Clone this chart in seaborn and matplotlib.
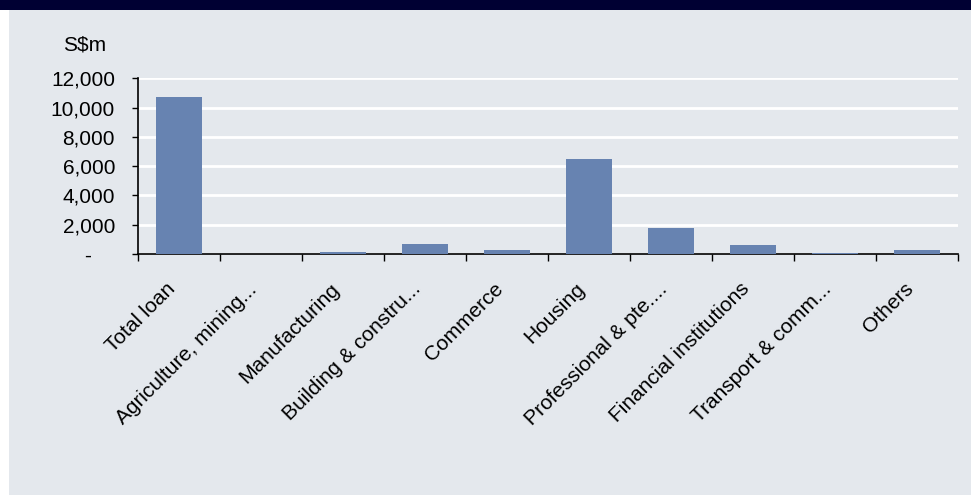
import matplotlib
matplotlib.use("Agg")
import matplotlib.pyplot as plt
from matplotlib.patches import Rectangle
from matplotlib.ticker import FixedLocator, FuncFormatter
import seaborn as sns
import pandas as pd

# Loan change by sector, S$m
sectors = [
    "Total loan",
    "Agriculture, mining...",
    "Manufacturing",
    "Building & constru...",
    "Commerce",
    "Housing",
    "Professional & pte....",
    "Financial institutions",
    "Transport & comm...",
    "Others",
]
values = [10700, 0, 130, 700, 270, 6500, 1775, 615, 70, 270]
y_ticks = [0, 2000, 4000, 6000, 8000, 10000, 12000]

BG = "#E4E8ED"
BAR = "#6783B1"
NAVY = "#000033"
FS = 15

sns.set_theme(style="white")
plt.rcParams["font.family"] = ["Liberation Sans", "DejaVu Sans"]

fig = plt.figure(figsize=(9.71, 4.95), dpi=100)
fig.patch.set_facecolor(BG)
# white margin on the left and the dark header band
fig.patches.append(Rectangle((0, 0), 9 / 971, 1, transform=fig.transFigure,
                             facecolor="white", edgecolor="none", zorder=0))
fig.patches.append(Rectangle((0, 1 - 9.5 / 495), 1, 9.5 / 495, transform=fig.transFigure,
                             facecolor=NAVY, edgecolor="none", zorder=1))
fig.text(0.012, 1.008, "Figure 9: Singapore loans growth by sector, year-to-date change",
         color="white", fontsize=15, fontweight="bold", ha="left", va="baseline")

ax = fig.add_axes([138 / 971, 1 - 254 / 495, (957.7 - 138) / 971, (254 - 78.3) / 495])
ax.set_facecolor(BG)

df = pd.DataFrame({"sector": sectors, "value": values})
sns.barplot(data=df, x="sector", y="value", color=BAR, saturation=1,
            width=0.56, linewidth=0, edgecolor="none", ax=ax, zorder=3)

ax.set_xlim(-0.5, len(sectors) - 0.5)
ax.set_ylim(0, 12000)
ax.set_yticks(y_ticks)
ax.yaxis.set_major_formatter(FuncFormatter(lambda v, p: "-    " if v == 0 else f"{v:,.0f}"))
ax.grid(axis="y", color="white", linewidth=2, zorder=1)
ax.set_axisbelow(True)

for side in ("top", "right"):
    ax.spines[side].set_visible(False)
for side in ("left", "bottom"):
    ax.spines[side].set_color("black")
    ax.spines[side].set_linewidth(1.2)

ax.set_xlabel("")
ax.set_ylabel("")
ax.set_xticks(range(len(sectors)))
ax.set_xticklabels(sectors, rotation=45, ha="right", va="bottom",
                   rotation_mode="anchor", fontsize=FS)
ax.xaxis.set_minor_locator(FixedLocator([i - 0.5 for i in range(len(sectors) + 1)]))
ax.tick_params(axis="x", which="major", length=0, pad=28, colors="black")
ax.tick_params(axis="x", which="minor", bottom=True, length=5, width=1, color="black")
ax.tick_params(axis="y", left=True, length=4.5, width=1, color="black",
               labelsize=FS, labelcolor="black", pad=12)

fig.text(63 / 971, 1 - 45 / 495, "S$m", fontsize=FS, color="black",
         ha="left", va="center")

fig.savefig("out.png", dpi=100, facecolor=fig.get_facecolor())
